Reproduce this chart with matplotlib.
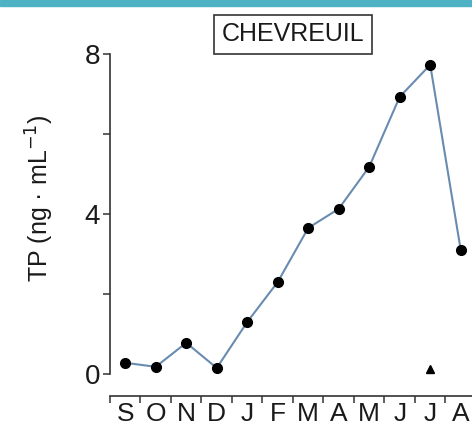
import matplotlib.pyplot as plt
from matplotlib.patches import Rectangle

months = ["S", "O", "N", "D", "J", "F", "M", "A", "M", "J", "J", "A"]
tp = [0.28, 0.18, 0.78, 0.15, 1.3, 2.3, 3.65, 4.13, 5.18, 6.93, 7.73, 3.1]
tri_month = 10
tri_value = 0.12

plt.rcParams['font.family'] = ['Liberation Sans', 'DejaVu Sans']

fig = plt.figure(figsize=(4.72, 4.30), dpi=100)
fig.patches.append(Rectangle((0, 1 - 6 / 430), 1, 6 / 430, transform=fig.transFigure,
                             color='#4db3c4', zorder=0))

ax = fig.add_axes([110 / 472, (430 - 374) / 430, 1 - 110 / 472, 332 / 430])
x = [i + 0.5 for i in range(len(months))]

ax.plot(x, tp, color='#6a8bb0', lw=1.5, zorder=2, clip_on=False)
ax.plot(x, tp, 'o', color='black', ms=7, zorder=3, clip_on=False)
ax.plot(tri_month + 0.5, tri_value, '^', color='black', ms=6, zorder=3, clip_on=False)

ax.set_xlim(0, 11.87)
ax.set_ylim(0, 8.3)

# axes style
ax.spines['top'].set_visible(False)
ax.spines['right'].set_visible(False)
ax.spines['left'].set_bounds(0, 8)
ax.spines['bottom'].set_position(('outward', 16))
for s in ['left', 'bottom']:
    ax.spines[s].set_color('#333333')
    ax.spines[s].set_linewidth(1.2)

ax.set_yticks([0, 4, 8])
ax.set_yticks([2, 6], minor=True)
ax.tick_params(axis='y', which='both', direction='out', length=5, width=1.1,
               colors='#333333', labelsize=20, pad=2)
ax.set_xticks(range(0, 12))
ax.set_xticks(x, minor=True)
ax.set_xticklabels([])
ax.set_xticklabels(months, minor=True)
ax.tick_params(axis='x', which='major', direction='out', length=5, width=1.1, colors='#333333')
ax.tick_params(axis='x', which='minor', length=0, labelsize=19, pad=4, labelcolor='#1a1a1a')
for lab in ax.get_yticklabels():
    lab.set_color('#1a1a1a')

ax.set_ylabel("TP (ng · mL$^{-1}$)", fontsize=18, color='#1a1a1a')
ax.yaxis.set_label_coords(-0.15, 0.53)

fig.text(293 / 472, 1 - 34 / 430, "CHEVREUIL", fontsize=18, ha='center', va='center',
         color='#1a1a1a',
         bbox=dict(boxstyle='square,pad=0.3', fc='white', ec='#333333', lw=1.2))

fig.savefig('out.png', dpi=100)
